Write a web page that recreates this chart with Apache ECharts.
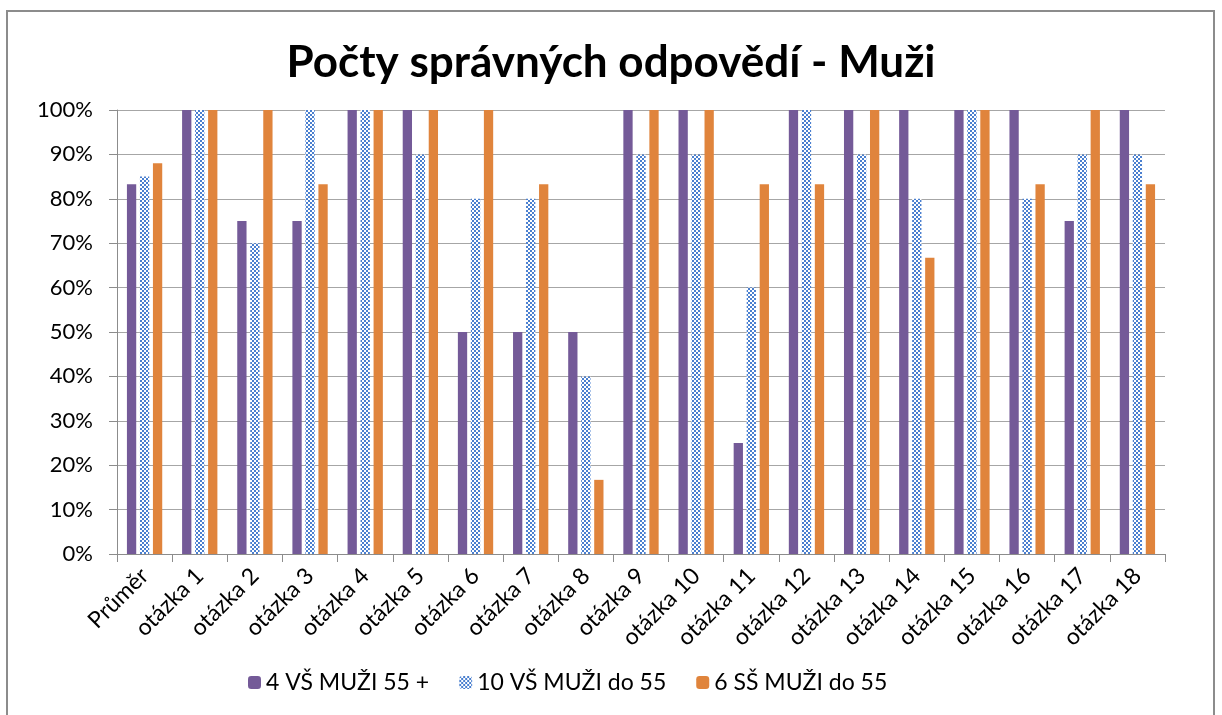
<!DOCTYPE html>
<html lang="cs">
<head>
<meta charset="utf-8">
<script src="https://cdn.jsdelivr.net/npm/echarts@6/dist/echarts.min.js"></script>
<style>
  html, body { margin: 0; padding: 0; background: #fff; }
  #frame {
    position: absolute; left: 6px; top: 10px; width: 1209px; height: 720px;
    border: 2px solid #8c8c8c; border-bottom: none; box-sizing: border-box;
  }
  #chart { position: absolute; left: 0; top: 0; width: 1222px; height: 715px; }
</style>
</head>
<body>
<div id="frame"></div>
<div id="chart"></div>
<script>
  var categories = ['Průměr', 'otázka 1', 'otázka 2', 'otázka 3', 'otázka 4', 'otázka 5', 'otázka 6',
    'otázka 7', 'otázka 8', 'otázka 9', 'otázka 10', 'otázka 11', 'otázka 12', 'otázka 13',
    'otázka 14', 'otázka 15', 'otázka 16', 'otázka 17', 'otázka 18'];
  var seriesNames = ['4 VŠ MUŽI 55 +', '10 VŠ MUŽI do 55', '6 SŠ MUŽI do 55'];
  // percent of correct answers
  var vsOld = [83.3, 100, 75, 75, 100, 100, 50, 50, 50, 100, 100, 25, 100, 100, 100, 100, 100, 75, 100];
  var vsYoung = [85, 100, 70, 100, 100, 90, 80, 80, 40, 90, 90, 60, 100, 90, 80, 100, 80, 90, 90];
  var ssYoung = [88, 100, 100, 83.3, 100, 100, 100, 83.3, 16.7, 100, 100, 83.3, 83.3, 100, 66.7, 100, 83.3, 100, 83.3];

  // checkered fill for the second series
  var pat = document.createElement('canvas');
  pat.width = 4; pat.height = 4;
  var ctx = pat.getContext('2d');
  ctx.fillStyle = '#ffffff';
  ctx.fillRect(0, 0, 4, 4);
  ctx.fillStyle = '#4a7fcf';
  ctx.fillRect(0, 0, 2, 2);
  ctx.fillRect(2, 2, 2, 2);

  var font = 'Lato, "Open Sans", sans-serif';
  var chart = echarts.init(document.getElementById('chart'));
  var option = {
    animation: false,
    textStyle: { fontFamily: font },
    title: {
      text: 'Počty správných odpovědí - Muži',
      left: 'center', top: 36,
      textStyle: { fontFamily: font, fontSize: 44, fontWeight: 'bold', color: '#000' }
    },
    legend: {
      left: 243, top: 666,
      itemWidth: 13, itemHeight: 13, itemGap: 30,
      textStyle: { fontFamily: font, fontSize: 23, color: '#000' },
      data: seriesNames
    },
    grid: { left: 117, right: 57, top: 110, bottom: 161 },
    xAxis: {
      type: 'category',
      data: categories,
      axisLine: { lineStyle: { color: '#8c8c8c', width: 1 } },
      axisTick: { show: true, length: 8, lineStyle: { color: '#8c8c8c' } },
      axisLabel: { rotate: 45, fontSize: 23, color: '#000', margin: 18, interval: 0, fontFamily: font }
    },
    yAxis: {
      type: 'value',
      min: 0, max: 100, interval: 10,
      axisLine: { show: true, lineStyle: { color: '#8c8c8c' } },
      axisTick: { show: true, length: 8, lineStyle: { color: '#8c8c8c' } },
      axisLabel: { formatter: '{value}%', fontSize: 22, color: '#000', margin: 24, fontFamily: font },
      splitLine: { lineStyle: { color: '#a6a6a6' } }
    },
    series: [
      { name: seriesNames[0], type: 'bar', data: vsOld, barGap: '40%', barCategoryGap: '36%',
        itemStyle: { color: '#745a98' } },
      { name: seriesNames[1], type: 'bar', data: vsYoung,
        itemStyle: { color: { image: pat, repeat: 'repeat' } } },
      { name: seriesNames[2], type: 'bar', data: ssYoung,
        itemStyle: { color: '#e0843c' } }
    ]
  };
  chart.setOption(option);
</script>
</body>
</html>
